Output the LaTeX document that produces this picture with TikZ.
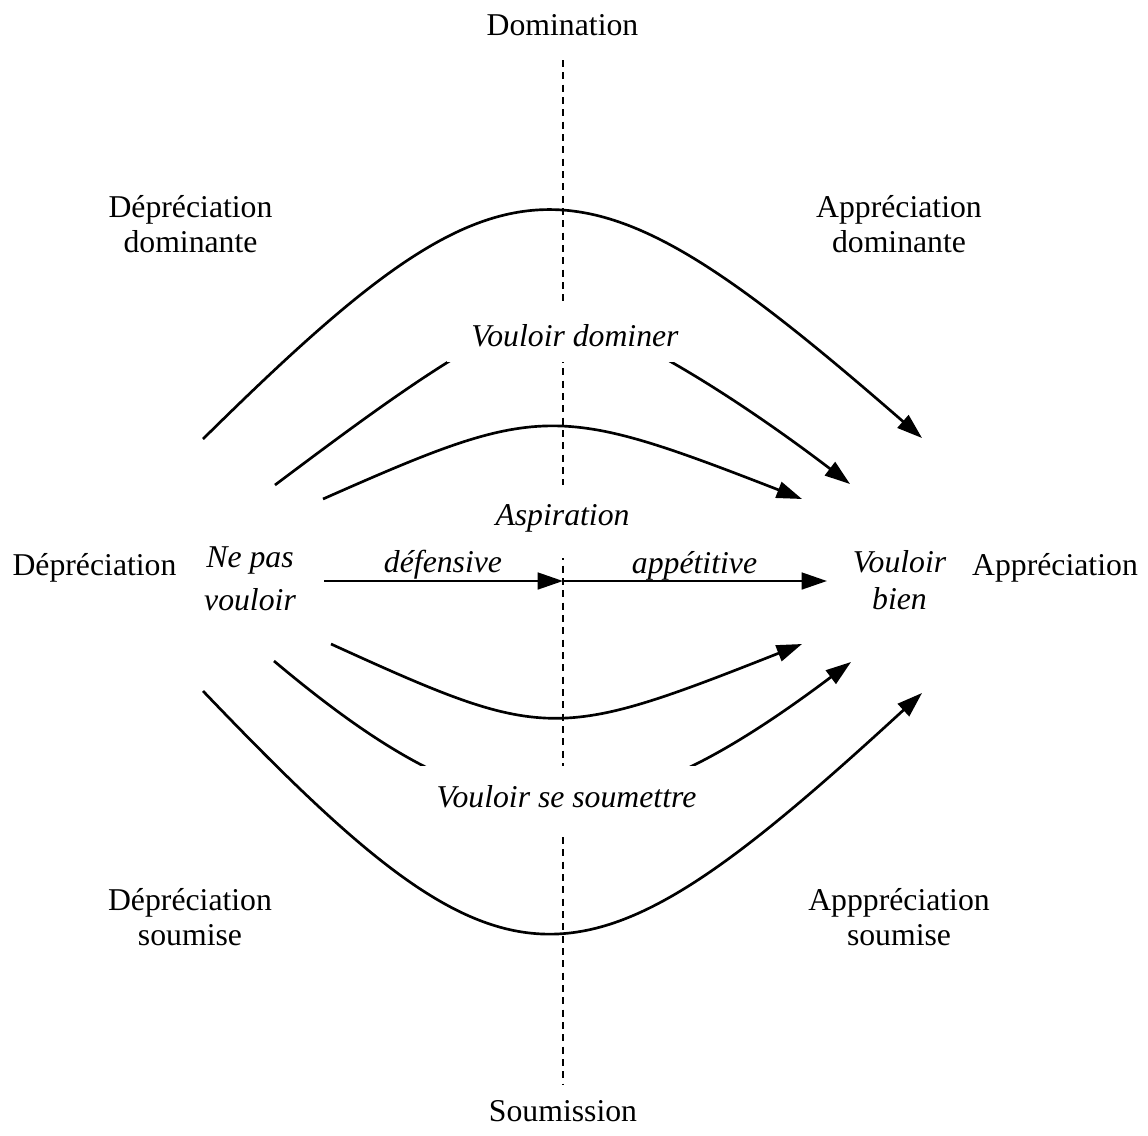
\documentclass[tikz,border=0pt]{standalone}
\usepackage{fontspec}
\setmainfont{Liberation Serif}
\usetikzlibrary{arrows.meta}
\newcommand\twolines[3][0pt]{\begin{tabular}[t]{@{}c@{}}#2\\[#1]#3\end{tabular}}
\begin{document}
\begin{tikzpicture}[x=0.75pt,y=-0.75pt,
  every node/.style={inner sep=0pt, font=\fontsize{23.8}{26.25}\selectfont},
  lbl/.style={anchor=base},
  ilbl/.style={anchor=base, font=\fontsize{23.8}{26.25}\selectfont\itshape},
  axisline/.style={dash pattern=on 5.25pt off 4pt, line width=1.5pt},
  flow/.style={line width=2pt, -{Triangle[length=19pt,width=12.5pt]}},
  masklbl/.style={fill=white, font=\fontsize{23.8}{26.25}\selectfont\itshape, inner ysep=0pt}
]
\useasboundingbox (0,0) rectangle (1148,1135);

% axis
\coordinate (dtop) at (563,60);
\coordinate (dbot) at (563,1085);
\draw[axisline] (dtop) -- (dbot);

% end points of the flows
\coordinate (c1s) at (203,439);  \coordinate (c1e) at (922,438);
\coordinate (c2s) at (275,485);  \coordinate (c2p) at (554,316); \coordinate (c2e) at (850,484);
\coordinate (c3s) at (323,499);  \coordinate (c3e) at (802,499);
\coordinate (m1s) at (324,581);  \coordinate (mid) at (563,581); \coordinate (m2e) at (827,581);
\coordinate (c5s) at (331,644);  \coordinate (c5e) at (802,644);
\coordinate (c6s) at (274,661);  \coordinate (c6e) at (851,662);
\coordinate (c7s) at (203,691);  \coordinate (c7e) at (922,693);

% flows
\draw[flow] (c1s) .. controls (510,136) and (575,136) .. (c1e);
\draw[flow] (c2s) .. controls (375,410) and (500,316) .. (c2p)
                  .. controls (610,316) and (740,400) .. (c2e);
\draw[flow] (c3s) .. controls (540,403) and (555,403) .. (c3e);
\draw[flow] (m1s) -- (mid);
\draw[flow] (mid) -- (m2e);
\draw[flow] (c5s) .. controls (545,741.5) and (555,741.5) .. (c5e);
\draw[flow] (c6s) .. controls (494,846) and (606,846) .. (c6e);
\draw[flow] (c7s) .. controls (510,1012) and (575,1012) .. (c7e);

% labels laid over the lines
\node[masklbl, text height=18.75pt, text depth=0pt, minimum height=42.75pt, inner xsep=18pt]
  (dominer) at (575,333.5) {Vouloir dominer};
\node[masklbl, text height=16.5pt, text depth=11.25pt, minimum height=54.75pt, inner xsep=4pt]
  (aspiration) at (562.5,521.5) {Aspiration};
\node[masklbl, text height=16.5pt, text depth=8.25pt, minimum height=53.25pt, inner xsep=14pt]
  (soumettre) at (566.5,801.5) {Vouloir se soumettre};

% axis labels
\node[lbl] (domination) at (562.5,35) {Domination};
\node[lbl] (soumission) at (563,1121) {Soumission};
\node[lbl] (depr) at (94.5,575) {Dépréciation};
\node[lbl] (appr) at (1055,575) {Appréciation};

% corner labels
\node[lbl] (deprdom) at (190.5,217) {\twolines{Dépréciation}{dominante}};
\node[lbl] (apprdom) at (899,217) {\twolines{Appréciation}{dominante}};
\node[lbl] (deprsou) at (190,910) {\twolines{Dépréciation}{soumise}};
\node[lbl] (apprsou) at (899,910) {\twolines{Apppréciation}{soumise}};

% italic labels
\node[ilbl] (nepas) at (250,567) {\twolines[6pt]{Ne pas}{vouloir}};
\node[ilbl] (vbien) at (899.5,572) {\twolines[1.5pt]{Vouloir}{bien}};
\node[ilbl] (defensive) at (443,572) {défensive};
\node[ilbl] (appetitive) at (694.5,573) {appétitive};
\end{tikzpicture}
\end{document}
